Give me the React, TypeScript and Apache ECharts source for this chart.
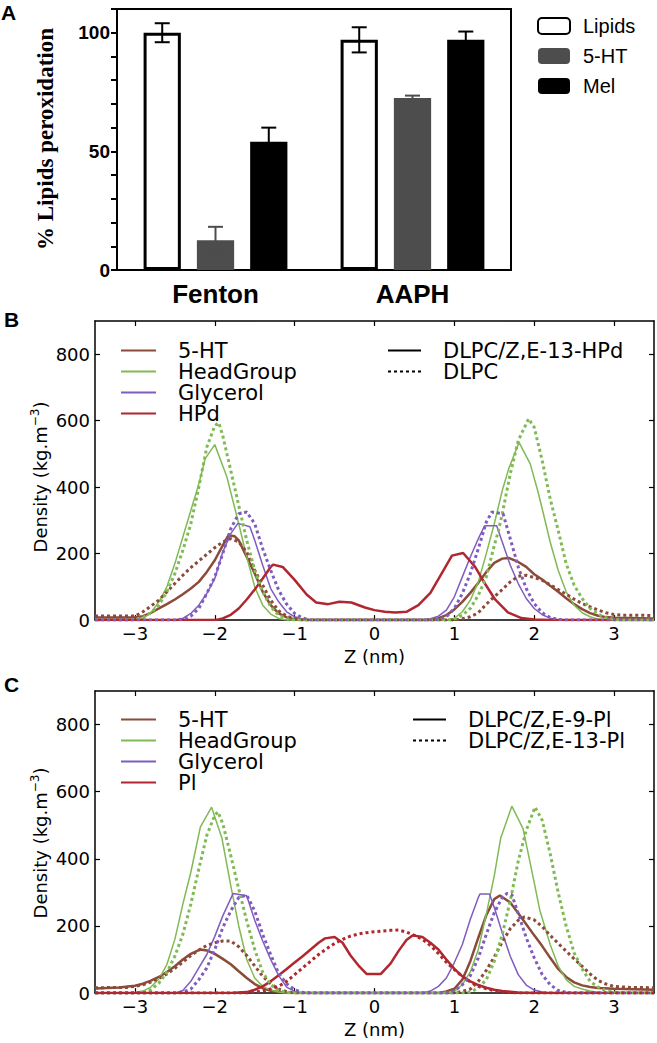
import React, { useEffect, useRef } from "react";
import * as echarts from "echarts";

// ---------- Panel A data ----------
const categories = ["Fenton", "AAPH"];
const lipidsVals = [100, 97];
const htVals = [12.5, 72.5];
const melVals = [54, 97];
const lipidsErr = [4, 5.3];
const htErr = [5.7, 1];
const melErr = [6, 3.5];
const yTicksA = [0, 50, 100];

// ---------- Panel B data (DLPC/Z,E-13-HPd solid, DLPC dotted) ----------
const b5htSolid = [[-3.5,8],[-3.0,8],[-2.9,12],[-2.8,22],[-2.7,35],[-2.6,48],[-2.5,62],[-2.4,78],[-2.3,95],[-2.2,115],[-2.1,145],[-2.0,180],[-1.9,225],[-1.83,255],[-1.75,252],[-1.7,240],[-1.6,190],[-1.5,140],[-1.4,85],[-1.3,45],[-1.2,20],[-1.1,8],[-1.0,3],[-0.9,0],[0.7,0],[0.8,6],[0.9,15],[1.0,32],[1.1,55],[1.2,82],[1.3,112],[1.4,145],[1.5,172],[1.6,185],[1.68,187],[1.8,175],[1.9,160],[2.0,138],[2.1,122],[2.2,103],[2.3,85],[2.4,66],[2.5,48],[2.6,33],[2.7,21],[2.8,13],[2.9,9],[3.0,7],[3.5,5]];
const b5htDotted = [[-3.5,12],[-3.0,12],[-2.9,25],[-2.8,42],[-2.7,60],[-2.6,85],[-2.5,110],[-2.4,135],[-2.3,158],[-2.2,178],[-2.1,198],[-2.0,218],[-1.9,235],[-1.8,245],[-1.7,235],[-1.6,205],[-1.5,150],[-1.4,105],[-1.3,60],[-1.2,28],[-1.1,12],[-1.0,4],[-0.9,0],[1.0,0],[1.1,4],[1.2,10],[1.3,22],[1.4,48],[1.5,70],[1.6,92],[1.7,115],[1.8,132],[1.9,135],[2.0,128],[2.1,120],[2.2,106],[2.3,92],[2.4,78],[2.5,63],[2.6,50],[2.7,40],[2.8,30],[2.9,22],[3.0,17],[3.1,15],[3.5,14]];
const bHeadSolid = [[-3.5,0],[-3.0,0],[-2.9,5],[-2.8,22],[-2.7,55],[-2.6,100],[-2.5,170],[-2.4,250],[-2.3,330],[-2.2,410],[-2.12,486],[-2.0,528],[-1.85,432],[-1.7,290],[-1.6,190],[-1.5,100],[-1.4,45],[-1.3,18],[-1.2,5],[-1.1,0],[0.9,0],[1.0,5],[1.1,25],[1.2,60],[1.3,115],[1.4,200],[1.5,290],[1.6,390],[1.68,455],[1.81,535],[1.95,470],[2.05,384],[2.1,335],[2.2,235],[2.3,150],[2.4,85],[2.5,45],[2.6,22],[2.7,10],[2.8,3],[2.9,0],[3.5,0]];
const bHeadDotted = [[-3.5,0],[-3.1,0],[-3.0,2],[-2.9,8],[-2.8,22],[-2.7,45],[-2.6,85],[-2.5,140],[-2.4,210],[-2.3,290],[-2.2,400],[-2.1,520],[-2.0,585],[-1.95,594],[-1.9,555],[-1.8,450],[-1.7,345],[-1.6,240],[-1.5,150],[-1.4,85],[-1.3,40],[-1.2,15],[-1.1,4],[-1.0,0],[0.9,0],[1.0,3],[1.1,15],[1.2,35],[1.3,75],[1.4,130],[1.5,225],[1.55,267],[1.6,320],[1.7,440],[1.8,540],[1.93,606],[2.0,580],[2.1,480],[2.2,365],[2.3,270],[2.4,170],[2.5,105],[2.6,65],[2.7,35],[2.8,18],[2.9,7],[3.0,2],[3.1,0],[3.5,0]];
const bGlySolid = [[-3.5,0],[-2.5,0],[-2.4,5],[-2.3,20],[-2.2,45],[-2.1,80],[-2.0,125],[-1.9,205],[-1.8,260],[-1.71,291],[-1.56,281],[-1.5,240],[-1.4,165],[-1.3,95],[-1.2,55],[-1.1,25],[-1.0,10],[-0.9,3],[-0.8,0],[0.6,0],[0.7,4],[0.8,12],[0.9,30],[1.0,70],[1.1,130],[1.2,190],[1.3,245],[1.38,284],[1.53,284],[1.6,235],[1.7,165],[1.8,110],[1.9,65],[2.0,35],[2.1,16],[2.2,6],[2.3,0],[3.5,0]];
const bGlyDotted = [[-3.5,0],[-2.5,0],[-2.4,3],[-2.3,12],[-2.2,35],[-2.1,80],[-2.0,130],[-1.9,200],[-1.8,275],[-1.7,320],[-1.6,325],[-1.5,290],[-1.4,215],[-1.3,150],[-1.2,90],[-1.1,48],[-1.0,20],[-0.9,6],[-0.8,0],[0.7,0],[0.8,2],[0.9,10],[1.0,35],[1.1,80],[1.2,140],[1.3,215],[1.4,295],[1.47,325],[1.61,320],[1.7,245],[1.8,160],[1.9,95],[2.0,50],[2.1,22],[2.2,8],[2.3,2],[2.4,0],[3.5,0]];
const bHpdSolid = [[-3.5,0],[-2.0,0],[-1.9,5],[-1.8,16],[-1.7,35],[-1.6,62],[-1.5,92],[-1.4,125],[-1.3,160],[-1.27,167],[-1.15,160],[-1.0,121],[-0.85,77],[-0.73,53],[-0.58,48],[-0.44,55],[-0.29,53],[-0.12,38],[0.0,30],[0.13,25],[0.26,23],[0.4,25],[0.55,45],[0.7,82],[0.84,140],[0.97,194],[1.11,202],[1.26,160],[1.38,111],[1.51,62],[1.67,23],[1.84,6],[2.0,2],[2.2,0],[3.5,0]];

// ---------- Panel C data (DLPC/Z,E-9-Pl solid, DLPC/Z,E-13-Pl dotted) ----------
const c5htSolid = [[-3.5,14],[-3.2,17],[-3.0,22],[-2.9,28],[-2.8,37],[-2.7,48],[-2.6,63],[-2.5,80],[-2.4,100],[-2.3,117],[-2.18,130],[-2.1,127],[-2.0,117],[-1.9,102],[-1.8,86],[-1.7,65],[-1.6,45],[-1.5,27],[-1.4,15],[-1.3,7],[-1.2,3],[-1.1,0],[0.8,0],[0.9,5],[1.0,13],[1.1,40],[1.2,95],[1.3,165],[1.4,232],[1.5,280],[1.57,291],[1.7,270],[1.8,238],[1.9,205],[2.0,172],[2.1,140],[2.2,105],[2.3,72],[2.4,48],[2.5,32],[2.6,23],[2.7,18],[2.8,15],[3.0,13],[3.5,10]];
const c5htDotted = [[-3.5,16],[-3.1,17],[-3.0,20],[-2.9,25],[-2.8,33],[-2.7,43],[-2.6,57],[-2.5,74],[-2.4,92],[-2.3,112],[-2.2,128],[-2.1,142],[-2.0,150],[-1.9,155],[-1.8,155],[-1.7,138],[-1.6,112],[-1.5,81],[-1.4,50],[-1.3,28],[-1.2,12],[-1.1,4],[-1.0,0],[1.0,0],[1.1,5],[1.2,12],[1.3,35],[1.4,68],[1.5,108],[1.6,152],[1.7,192],[1.8,217],[1.88,227],[2.0,218],[2.1,198],[2.2,172],[2.3,148],[2.4,125],[2.5,102],[2.6,80],[2.7,57],[2.8,38],[2.9,27],[3.0,20],[3.2,17],[3.5,16]];
const cHeadSolid = [[-3.5,0],[-3.1,0],[-3.0,2],[-2.9,6],[-2.8,18],[-2.7,42],[-2.6,85],[-2.5,160],[-2.4,265],[-2.3,360],[-2.18,495],[-2.04,554],[-1.91,461],[-1.8,320],[-1.7,200],[-1.6,100],[-1.5,45],[-1.4,20],[-1.3,9],[-1.2,3],[-1.1,0],[0.9,0],[1.0,5],[1.1,25],[1.2,63],[1.3,130],[1.4,235],[1.5,350],[1.58,461],[1.72,557],[1.86,490],[1.97,364],[2.07,247],[2.2,145],[2.3,81],[2.4,40],[2.5,20],[2.6,12],[2.7,6],[2.8,2],[2.9,0],[3.5,0]];
const cHeadDotted = [[-3.5,0],[-3.0,0],[-2.9,3],[-2.8,10],[-2.7,30],[-2.6,62],[-2.5,110],[-2.4,175],[-2.3,265],[-2.2,370],[-2.1,470],[-2.0,530],[-1.96,540],[-1.9,505],[-1.8,410],[-1.7,310],[-1.6,215],[-1.5,130],[-1.4,62],[-1.3,25],[-1.2,8],[-1.1,2],[-1.0,0],[1.1,0],[1.2,3],[1.3,15],[1.4,40],[1.5,95],[1.6,175],[1.7,275],[1.8,393],[1.9,485],[2.01,554],[2.1,515],[2.2,415],[2.3,300],[2.4,200],[2.5,120],[2.6,72],[2.7,35],[2.8,18],[2.9,7],[3.0,3],[3.1,0],[3.5,0]];
const cGlySolid = [[-3.5,0],[-2.5,0],[-2.4,8],[-2.3,35],[-2.2,75],[-2.1,115],[-2.0,169],[-1.9,230],[-1.77,297],[-1.6,290],[-1.5,217],[-1.4,155],[-1.3,100],[-1.2,52],[-1.1,18],[-1.0,5],[-0.9,0],[0.6,0],[0.7,6],[0.8,20],[0.9,45],[1.0,91],[1.1,145],[1.2,220],[1.3,285],[1.32,295],[1.44,295],[1.5,255],[1.6,180],[1.7,110],[1.8,55],[1.9,24],[2.0,9],[2.1,3],[2.2,0],[3.5,0]];
const cGlyDotted = [[-3.5,0],[-2.5,0],[-2.4,3],[-2.3,12],[-2.2,40],[-2.1,75],[-2.0,130],[-1.9,195],[-1.8,245],[-1.7,285],[-1.6,292],[-1.5,245],[-1.4,175],[-1.3,115],[-1.2,58],[-1.1,28],[-1.0,10],[-0.9,2],[-0.8,0],[0.9,0],[1.0,7],[1.1,25],[1.2,52],[1.3,105],[1.4,175],[1.5,240],[1.6,285],[1.66,297],[1.72,293],[1.8,237],[1.9,165],[2.0,105],[2.1,55],[2.2,25],[2.3,8],[2.4,2],[2.5,0],[3.5,0]];
const cPlSolid = [[-3.5,0],[-1.8,0],[-1.6,3],[-1.5,10],[-1.4,20],[-1.3,35],[-1.2,53],[-1.1,72],[-1.0,91],[-0.9,110],[-0.8,130],[-0.7,150],[-0.62,163],[-0.5,167],[-0.4,150],[-0.3,112],[-0.2,82],[-0.1,57],[0.08,57],[0.2,88],[0.3,125],[0.4,158],[0.48,172],[0.6,167],[0.7,150],[0.8,130],[0.9,100],[1.0,72],[1.1,50],[1.2,35],[1.3,24],[1.4,16],[1.5,10],[1.6,6],[1.7,4],[1.8,2],[2.0,0],[3.5,0]];
const cPlDotted = [[-3.5,0],[-1.6,0],[-1.5,3],[-1.4,6],[-1.3,12],[-1.2,20],[-1.1,35],[-1.0,55],[-0.9,75],[-0.8,95],[-0.7,115],[-0.6,132],[-0.5,148],[-0.4,160],[-0.3,170],[-0.2,176],[-0.1,180],[0.0,183],[0.1,185],[0.2,187],[0.3,188],[0.4,182],[0.5,172],[0.6,160],[0.7,142],[0.8,118],[0.9,92],[1.0,70],[1.1,50],[1.2,33],[1.3,21],[1.4,13],[1.5,7],[1.6,4],[1.7,2],[1.8,0],[3.5,0]];

const zTicks = [-3, -2, -1, 0, 1, 2, 3];
const densityTicks = [0, 200, 400, 600, 800];

const BROWN = "#8c4a38";
const GREEN = "#80ba55";
const PURPLE = "#7f5cbf";
const RED = "#b0272f";
const SANS = "DejaVu Sans";
const ARIAL = "Liberation Sans";

const minus = (v: number) => String(v).replace("-", "\u2212");

function panelA(): any {
  const barGapRatio = 0.43;
  const catGapRatio = 0.27;
  const errColors = ["#000", "#4d4d4d", "#000"];
  const errData: any[] = [];
  [lipidsErr, htErr, melErr].forEach((arr, k) => {
    const vals = [lipidsVals, htVals, melVals][k];
    arr.forEach((e, i) => errData.push([i, vals[i], e, k]));
  });
  return {
    animation: false,
    textStyle: { fontFamily: ARIAL },
    grid: { left: 117, top: 9, width: 394, height: 261, show: true, borderColor: "#000", borderWidth: 2 },
    legend: {
      data: ["Lipids", "5-HT", "Mel"],
      orient: "vertical",
      left: 537,
      top: 11,
      padding: 0,
      itemWidth: 32,
      itemHeight: 16,
      itemGap: 0,
      icon: "roundRect",
      selectedMode: false,
      textStyle: { fontSize: 20, fontFamily: ARIAL, color: "#000", lineHeight: 30, padding: [0, 0, 0, 8] },
    },
    xAxis: {
      type: "category",
      data: categories,
      axisLine: { lineStyle: { color: "#000", width: 2 } },
      axisTick: { show: false },
      axisLabel: { fontSize: 26, fontWeight: "bold", color: "#000", margin: 11, fontFamily: ARIAL },
    },
    yAxis: {
      type: "value",
      min: 0,
      max: 110,
      interval: 10,
      axisLine: { show: true, lineStyle: { color: "#000", width: 2 } },
      axisTick: { show: true, length: 6, lineStyle: { color: "#000", width: 2 } },
      axisLabel: {
        fontSize: 19,
        fontWeight: "bold",
        color: "#000",
        margin: 7,
        fontFamily: ARIAL,
        formatter: (v: number) => (yTicksA.indexOf(v) >= 0 ? String(v) : ""),
      },
      splitLine: { show: false },
    },
    series: [
      {
        name: "Lipids",
        type: "bar",
        data: lipidsVals,
        barGap: "43%",
        barCategoryGap: "27%",
        itemStyle: { color: "#fff", borderColor: "#000", borderWidth: 3 },
      },
      { name: "5-HT", type: "bar", data: htVals, itemStyle: { color: "#4d4d4d" } },
      { name: "Mel", type: "bar", data: melVals, itemStyle: { color: "#000" } },
      {
        type: "custom",
        name: "err",
        z: 5,
        data: errData,
        renderItem: (params: any, api: any) => {
          const cat = api.value(0);
          const v = api.value(1);
          const e = api.value(2);
          const k = api.value(3);
          const c = api.coord([cat, v]);
          const bw = api.size([1, 0])[0];
          const barW = (bw * (1 - catGapRatio)) / (3 + 2 * barGapRatio);
          const x = c[0] + (k - 1) * barW * (1 + barGapRatio);
          const top = api.coord([cat, v + e])[1];
          const bot = api.coord([cat, v - e])[1];
          const h = 7.5;
          const style = { stroke: errColors[k], lineWidth: 2 };
          return {
            type: "group",
            children: [
              { type: "line", shape: { x1: x, y1: top, x2: x, y2: bot }, style },
              { type: "line", shape: { x1: x - h, y1: top, x2: x + h, y2: top }, style },
              { type: "line", shape: { x1: x - h, y1: bot, x2: x + h, y2: bot }, style },
            ],
          };
        },
      },
    ],
    graphic: [
      { type: "text", left: 1, top: 2, style: { text: "A", fontSize: 21, fontWeight: "bold", fontFamily: ARIAL, fill: "#000" } },
      {
        type: "text",
        x: 45,
        y: 139,
        rotation: Math.PI / 2,
        style: {
          text: "% Lipids peroxidation",
          fontSize: 23,
          fontWeight: "bold",
          fontFamily: "Liberation Serif",
          fill: "#000",
          align: "center",
          verticalAlign: "middle",
        },
      },
    ],
  };
}

function densityPanel(opts: {
  letter: string;
  gridTop: number;
  gridBottom: number;
  legendTop: number;
  rightLegendLeft: number;
  yNameY: number;
  lines: { name: string; data: number[][]; color: string; width: number; dotted: boolean }[];
  styleNames: string[];
  colorNames: string[];
}): any {
  const axisCommon = {
    type: "value",
    axisLine: { show: true, onZero: false, lineStyle: { color: "#000", width: 1.5 } },
    splitLine: { show: false },
  };
  const series: any[] = opts.lines.map((l) => ({
    name: l.name,
    type: "line",
    data: l.data,
    symbol: "none",
    showSymbol: false,
    clip: true,
    lineStyle: { color: l.color, width: l.width, type: l.dotted ? [3, 3] : "solid", cap: "butt" },
    itemStyle: { color: l.color },
  }));
  series.push({
    name: opts.styleNames[0],
    type: "line",
    data: [],
    symbol: "none",
    lineStyle: { color: "#000", width: 2.5, type: "solid" },
    itemStyle: { color: "#000" },
  });
  series.push({
    name: opts.styleNames[1],
    type: "line",
    data: [],
    symbol: "none",
    lineStyle: { color: "#000", width: 3, type: [3, 3] },
    itemStyle: { color: "#000" },
  });
  const legendText = { fontSize: 21, fontFamily: SANS, color: "#000", lineHeight: 21, padding: [0, 0, 0, 17] };
  const legendCommon = {
    orient: "vertical",
    top: opts.legendTop,
    padding: 0,
    itemHeight: 14,
    itemGap: 0,
    selectedMode: false,
    itemStyle: { opacity: 0 },
    textStyle: legendText,
  };
  return {
    animation: false,
    textStyle: { fontFamily: SANS },
    grid: { left: 95, right: 3, top: opts.gridTop, bottom: opts.gridBottom },
    legend: [
      { ...legendCommon, data: opts.colorNames, left: 120, itemWidth: 35 },
      { ...legendCommon, data: opts.styleNames, left: opts.rightLegendLeft, itemWidth: 33 },
    ],
    xAxis: [
      {
        ...axisCommon,
        position: "bottom",
        min: -3.5,
        max: 3.5,
        name: "Z (nm)",
        nameLocation: "middle",
        nameGap: 24,
        nameTextStyle: { fontSize: 18, color: "#000", fontFamily: SANS },
        axisTick: { show: true, inside: true, length: 5, customValues: zTicks, lineStyle: { color: "#000", width: 1.2 } },
        axisLabel: { show: true, customValues: zTicks, fontSize: 18, color: "#000", margin: 4, formatter: minus },
      },
      {
        ...axisCommon,
        position: "top",
        min: -3.5,
        max: 3.5,
        axisTick: { show: true, inside: true, length: 5, customValues: zTicks, lineStyle: { color: "#000", width: 1.2 } },
        axisLabel: { show: false },
      },
    ],
    yAxis: [
      {
        ...axisCommon,
        position: "left",
        min: 0,
        max: 900,
        axisTick: { show: true, inside: true, length: 5, customValues: densityTicks, lineStyle: { color: "#000", width: 1.2 } },
        axisLabel: { show: true, customValues: densityTicks, fontSize: 18, color: "#000", margin: 5 },
      },
      {
        ...axisCommon,
        position: "right",
        min: 0,
        max: 900,
        axisTick: { show: true, inside: true, length: 5, customValues: densityTicks, lineStyle: { color: "#000", width: 1.2 } },
        axisLabel: { show: false },
      },
    ],
    series,
    graphic: [
      { type: "text", left: 4, top: 4, style: { text: opts.letter, fontSize: 21, fontWeight: "bold", fontFamily: ARIAL, fill: "#000" } },
      {
        type: "text",
        x: 40,
        y: opts.yNameY,
        rotation: Math.PI / 2,
        style: {
          text: "{a|Density (kg.m}{s|\u22123}{a|)}",
          align: "center",
          verticalAlign: "middle",
          rich: {
            a: { fontSize: 18, fontFamily: SANS, fill: "#000", lineHeight: 22 },
            s: { fontSize: 12, fontFamily: SANS, fill: "#000", lineHeight: 12, verticalAlign: "top" },
          },
        },
      },
    ],
  };
}

function panelB(): any {
  return densityPanel({
    letter: "B",
    gridTop: 16,
    gridBottom: 42,
    legendTop: 35,
    rightLegendLeft: 387,
    yNameY: 172,
    colorNames: ["5-HT", "HeadGroup", "Glycerol", "HPd"],
    styleNames: ["DLPC/Z,E-13-HPd", "DLPC"],
    lines: [
      { name: "5-HT", data: b5htSolid, color: BROWN, width: 2.5, dotted: false },
      { name: "HeadGroup", data: bHeadSolid, color: GREEN, width: 1.5, dotted: false },
      { name: "Glycerol", data: bGlySolid, color: PURPLE, width: 1.5, dotted: false },
      { name: "HPd", data: bHpdSolid, color: RED, width: 2.5, dotted: false },
      { name: "5-HT", data: b5htDotted, color: BROWN, width: 3, dotted: true },
      { name: "HeadGroup", data: bHeadDotted, color: GREEN, width: 3, dotted: true },
      { name: "Glycerol", data: bGlyDotted, color: PURPLE, width: 3, dotted: true },
    ],
  });
}

function panelC(): any {
  return densityPanel({
    letter: "C",
    gridTop: 21,
    gridBottom: 45,
    legendTop: 39,
    rightLegendLeft: 412,
    yNameY: 173,
    colorNames: ["5-HT", "HeadGroup", "Glycerol", "Pl"],
    styleNames: ["DLPC/Z,E-9-Pl", "DLPC/Z,E-13-Pl"],
    lines: [
      { name: "5-HT", data: c5htSolid, color: BROWN, width: 2.5, dotted: false },
      { name: "HeadGroup", data: cHeadSolid, color: GREEN, width: 1.5, dotted: false },
      { name: "Glycerol", data: cGlySolid, color: PURPLE, width: 1.5, dotted: false },
      { name: "Pl", data: cPlSolid, color: RED, width: 2.5, dotted: false },
      { name: "5-HT", data: c5htDotted, color: BROWN, width: 3, dotted: true },
      { name: "HeadGroup", data: cHeadDotted, color: GREEN, width: 3, dotted: true },
      { name: "Glycerol", data: cGlyDotted, color: PURPLE, width: 3, dotted: true },
      { name: "Pl", data: cPlDotted, color: RED, width: 3, dotted: true },
    ],
  });
}

function Chart({ top, height, option }: { top: number; height: number; option: () => any }) {
  const ref = useRef<HTMLDivElement>(null);
  useEffect(() => {
    if (!ref.current) return;
    const chart = echarts.init(ref.current, undefined, { renderer: "svg" });
    chart.setOption(option());
    return () => chart.dispose();
  }, []);
  return <div ref={ref} style={{ position: "absolute", left: 0, top, width: 657, height }} />;
}

export default function App() {
  return (
    <div style={{ position: "absolute", left: 0, top: 0, width: 657, height: 1043, background: "#fff" }}>
      <Chart top={0} height={318} option={panelA} />
      <Chart top={305} height={365} option={panelB} />
      <Chart top={670} height={373} option={panelC} />
    </div>
  );
}
